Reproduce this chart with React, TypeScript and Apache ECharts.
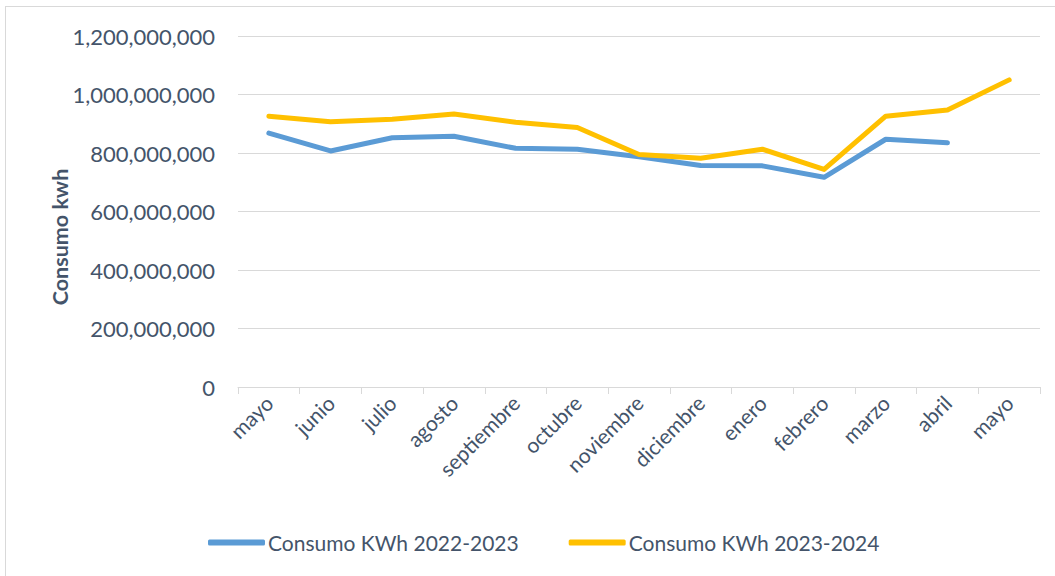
import React, { useEffect, useRef } from "react";
import * as echarts from "echarts";

const categories = ["mayo", "junio", "julio", "agosto", "septiembre", "octubre", "noviembre", "diciembre", "enero", "febrero", "marzo", "abril", "mayo"];
const consumo2223 = [868000000, 807000000, 852000000, 857000000, 816000000, 813000000, 787000000, 757000000, 756000000, 717000000, 847000000, 835000000, null];
const consumo2324 = [926000000, 907000000, 915000000, 933000000, 905000000, 887000000, 795000000, 782000000, 813000000, 744000000, 926000000, 947000000, 1050000000];
const seriesNames = ["Consumo KWh 2022-2023", "Consumo KWh 2023-2024"];
const yAxisTitle = "Consumo kwh";

const FONT = "Lato, 'Open Sans', sans-serif";
const TEXT = "#44546A";

export default function App() {
  const ref = useRef<HTMLDivElement>(null);
  useEffect(() => {
    if (!ref.current) return;
    const chart = echarts.init(ref.current, undefined, { renderer: "svg" });
    chart.setOption({
      animation: false,
      backgroundColor: "#ffffff",
      grid: { left: 238, right: 15, top: 36, bottom: 189, containLabel: false },
      legend: {
        left: 203,
        top: 527,
        itemWidth: 57,
        itemHeight: 6,
        itemGap: 50,
        icon: "roundRect",
        textStyle: { fontFamily: FONT, fontSize: 21, color: TEXT, padding: [0, 0, 0, -2] },
        data: seriesNames,
      },
      xAxis: {
        type: "category",
        data: categories,
        boundaryGap: true,
        axisLine: { lineStyle: { color: "#D9D9D9", width: 1 } },
        axisTick: { show: true, length: 7, lineStyle: { color: "#D9D9D9" } },
        axisLabel: { rotate: 45, margin: 12, fontFamily: FONT, fontSize: 21, color: TEXT, interval: 0 },
      },
      yAxis: {
        type: "value",
        min: 0,
        max: 1200000000,
        interval: 200000000,
        axisLine: { show: false },
        axisTick: { show: false },
        splitLine: { lineStyle: { color: "#D9D9D9", width: 1 } },
        axisLabel: {
          margin: 23,
          fontFamily: FONT,
          fontSize: 22,
          color: TEXT,
          formatter: (v: number) => v.toLocaleString("en-US"),
        },
      },
      graphic: [
        { type: "line", shape: { x1: 5, y1: 6.5, x2: 1055, y2: 6.5 }, style: { stroke: "#D9D9D9", lineWidth: 1 } },
        { type: "line", shape: { x1: 5.5, y1: 6, x2: 5.5, y2: 576 }, style: { stroke: "#D9D9D9", lineWidth: 1 } },
        {
          type: "text",
          x: 60,
          y: 237,
          rotation: Math.PI / 2,
          style: {
            text: yAxisTitle,
            fontFamily: FONT,
            fontSize: 21.5,
            fontWeight: "bold",
            fill: TEXT,
            textAlign: "center",
            textVerticalAlign: "middle",
          },
        },
      ],
      series: [
        {
          name: seriesNames[0],
          type: "line",
          data: consumo2223,
          symbol: "none",
          lineStyle: { color: "#5B9BD5", width: 5, cap: "round", join: "round" },
          itemStyle: { color: "#5B9BD5" },
        },
        {
          name: seriesNames[1],
          type: "line",
          data: consumo2324,
          symbol: "none",
          lineStyle: { color: "#FFC000", width: 5, cap: "round", join: "round" },
          itemStyle: { color: "#FFC000" },
        },
      ],
    });
    return () => chart.dispose();
  }, []);
  return <div ref={ref} style={{ position: "fixed", left: 0, top: 0, width: 1055, height: 576 }} />;
}
